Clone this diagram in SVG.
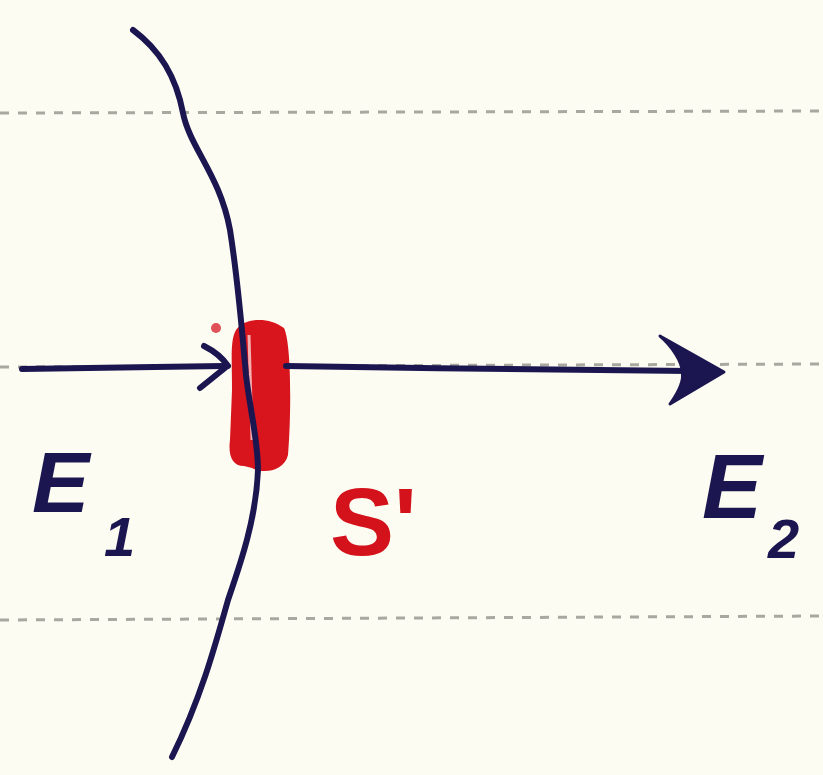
<svg xmlns="http://www.w3.org/2000/svg" width="823" height="775" viewBox="0 0 823 775">
<style>
.guide{stroke:#a8a8a0;stroke-width:3;stroke-dasharray:9 9;fill:none}
.ink{stroke:#1b1650;stroke-width:6;fill:none;stroke-linecap:round;stroke-linejoin:round}
.lbl{font-family:"Liberation Sans",Arial,sans-serif;font-style:italic;font-weight:bold;fill:#1b1650}
.red{font-family:"Liberation Sans",Arial,sans-serif;font-weight:bold;fill:#d4121c}
</style>
<rect width="823" height="775" fill="#fcfcf2"/>
<g id="guides">
<line class="guide" x1="0" y1="113" x2="823" y2="111"/>
<line class="guide" x1="0" y1="367" x2="823" y2="364"/>
<line class="guide" x1="0" y1="620" x2="823" y2="616"/>
</g>
<g id="surface-S">
<path d="M236,330 C244,318 268,316 284,328 C292,345 291,420 288,455 C284,472 262,474 252,468 L244,466 C232,466 228,455 230,440 L232,390 C232,360 230,340 236,330 Z" fill="#d8141c"/>
<circle cx="216" cy="328" r="5" fill="#e05058"/>
<line x1="249" y1="335" x2="252" y2="440" stroke="#f4b0b0" stroke-width="3"/>
</g>
<g id="curve">
<path class="ink" d="M133,30 C160,50 176,76 183,113 C190,148 220,175 230,230 C238,280 242,330 246,375 C250,410 258,440 258,470 C256,520 240,565 228,600 C214,650 200,700 172,757"/>
</g>
<g id="connectors">
<path class="ink" d="M22,369 C80,368 160,367 224,366"/>
<path class="ink" d="M204,346 C216,352 224,360 228,366 M200,388 C210,380 220,372 226,367" stroke-width="7"/>
<path class="ink" d="M286,366 C420,368 560,370 690,371"/>
<path d="M660,336 L724,372 L670,404 C680,390 684,378 682,371 C682,362 672,346 660,336 Z" fill="#1b1650" stroke="#1b1650" stroke-width="3" stroke-linejoin="round"/>
</g>
<g id="label-E1">
<text class="lbl" x="32" y="512" font-size="86">E</text>
<text class="lbl" x="104" y="556" font-size="56" font-style="normal">1</text>
</g>
<g id="label-E2">
<text class="lbl" x="702" y="518" font-size="90">E</text>
<text class="lbl" x="768" y="558" font-size="56" font-style="normal">2</text>
</g>
<g id="label-S">
<text class="red" x="330" y="555" font-size="96">S'</text>
</g>
</svg>
